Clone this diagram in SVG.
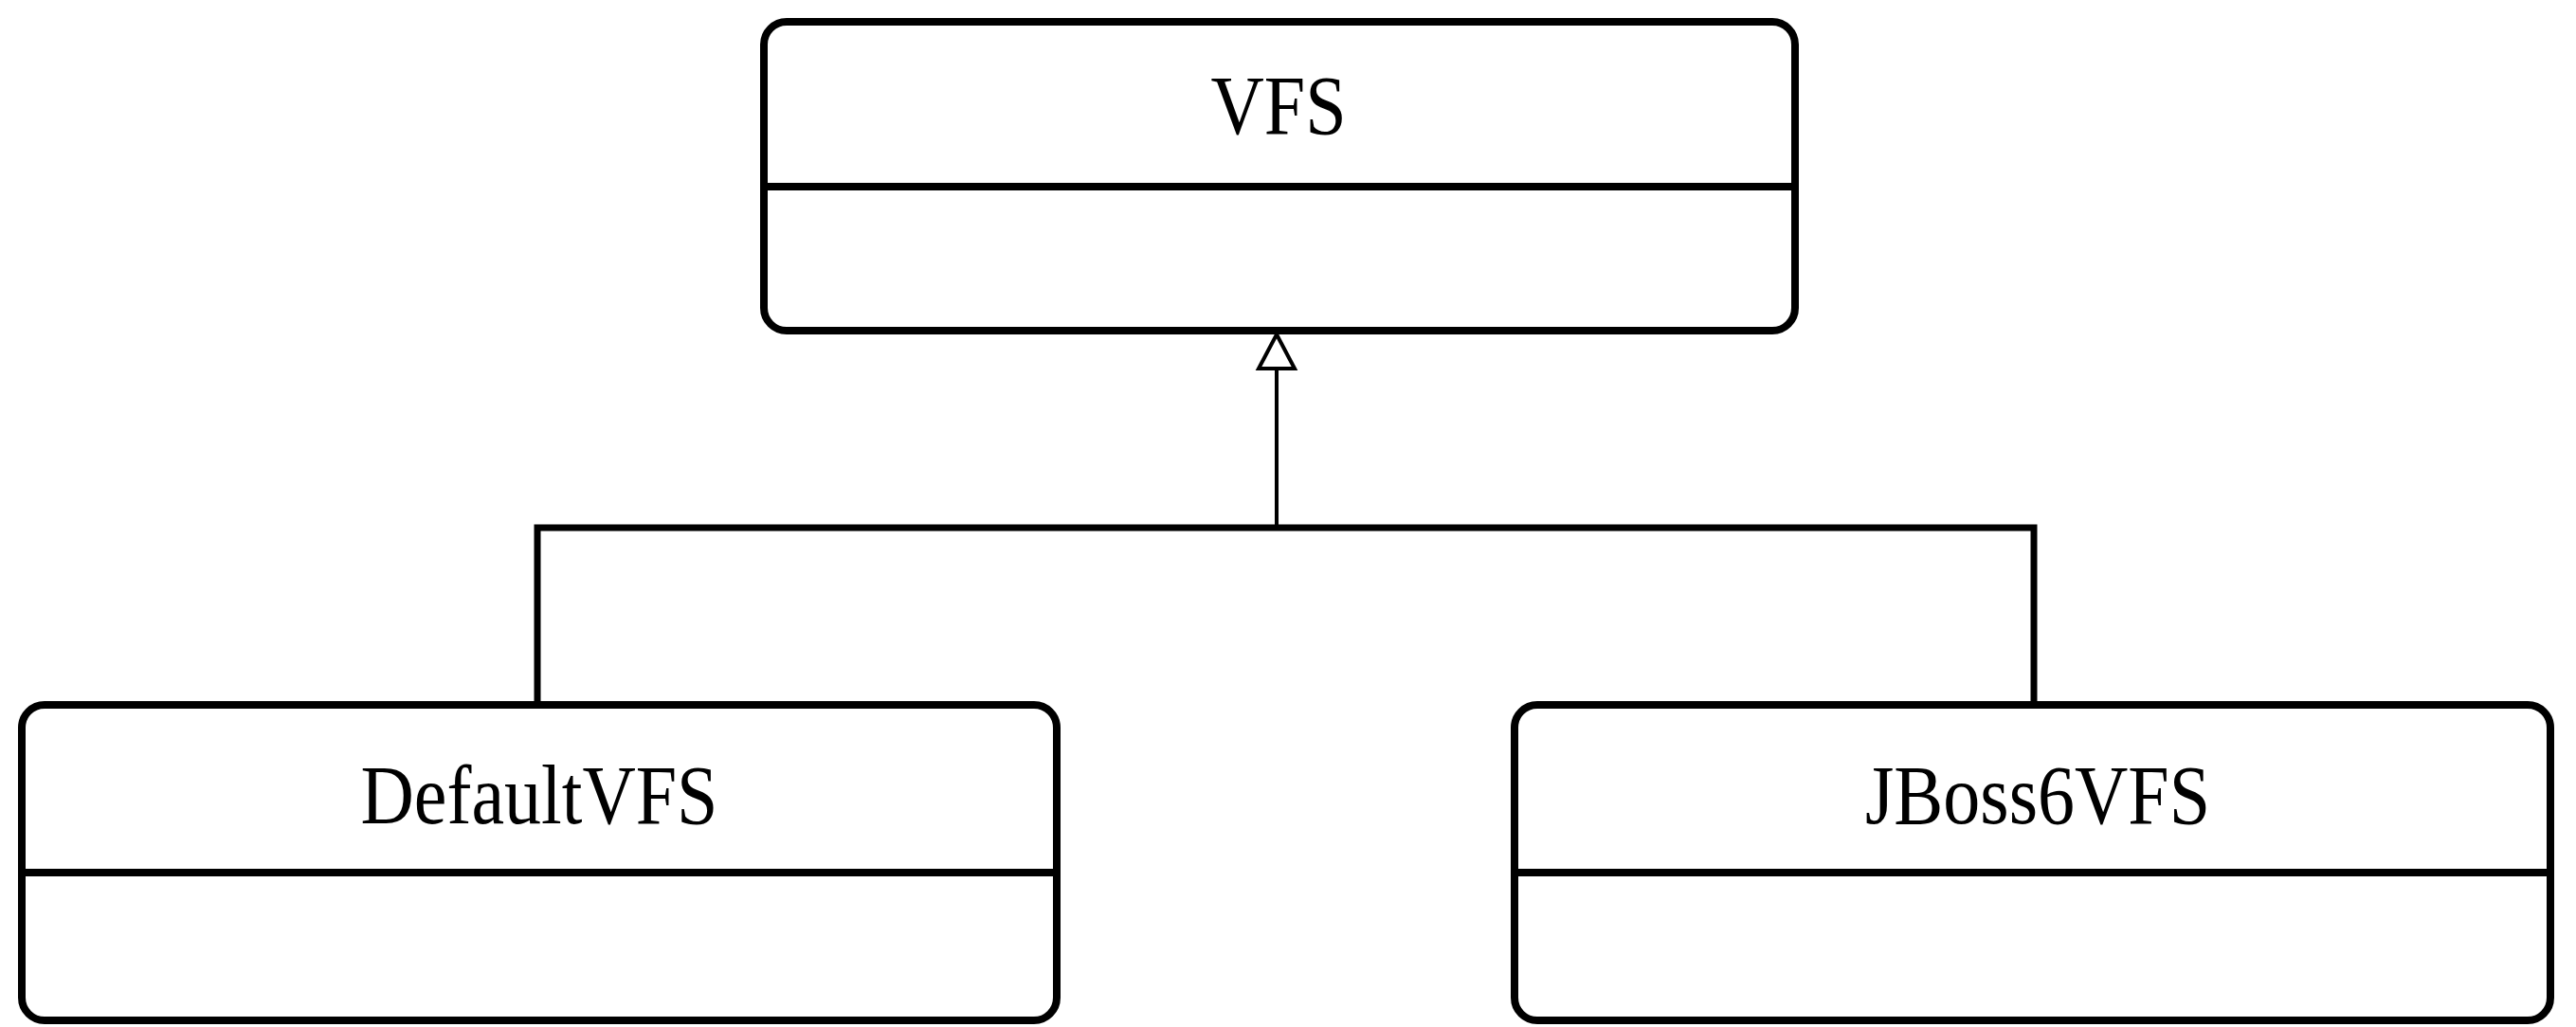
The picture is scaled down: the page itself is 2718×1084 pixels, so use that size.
<svg xmlns="http://www.w3.org/2000/svg" width="2718" height="1084" viewBox="0 0 2718 1084">
<style>
.box{fill:#fff;stroke:#000;stroke-width:8}
.div{stroke:#000;stroke-width:8}
.lbl{font-family:"Liberation Serif","Times New Roman",serif;font-size:78px;fill:#000;text-anchor:middle}
.con{fill:none;stroke:#000;stroke-width:7}
.shaft{fill:none;stroke:#000;stroke-width:4}
.head{fill:#fff;stroke:#000;stroke-width:4;stroke-linejoin:miter}
</style>
<rect x="0" y="0" width="2718" height="1084" fill="#fff"/>
<g id="connectors">
<polyline class="con" points="567,744 567,557 2146,557 2146,744"/>
<line class="shaft" x1="1347" y1="557" x2="1347" y2="389"/>
<polygon class="head" points="1347,353 1366,389 1328,389"/>
</g>
<g id="VFS">
<rect class="box" x="806" y="23" width="1088" height="326" rx="24" ry="24"/>
<line class="div" x1="806" y1="197" x2="1894" y2="197"/>
<text class="lbl" transform="translate(1349,141) scale(1,1.13)">VFS</text>
</g>
<g id="DefaultVFS">
<rect class="box" x="23" y="744" width="1092" height="333" rx="24" ry="24"/>
<line class="div" x1="23" y1="921" x2="1115" y2="921"/>
<text class="lbl" transform="translate(569,869) scale(1,1.13)">DefaultVFS</text>
</g>
<g id="JBoss6VFS">
<rect class="box" x="1598" y="744" width="1093" height="333" rx="24" ry="24"/>
<line class="div" x1="1598" y1="921" x2="2691" y2="921"/>
<text class="lbl" transform="translate(2150,869) scale(1,1.13)">JBoss6VFS</text>
</g>
</svg>
